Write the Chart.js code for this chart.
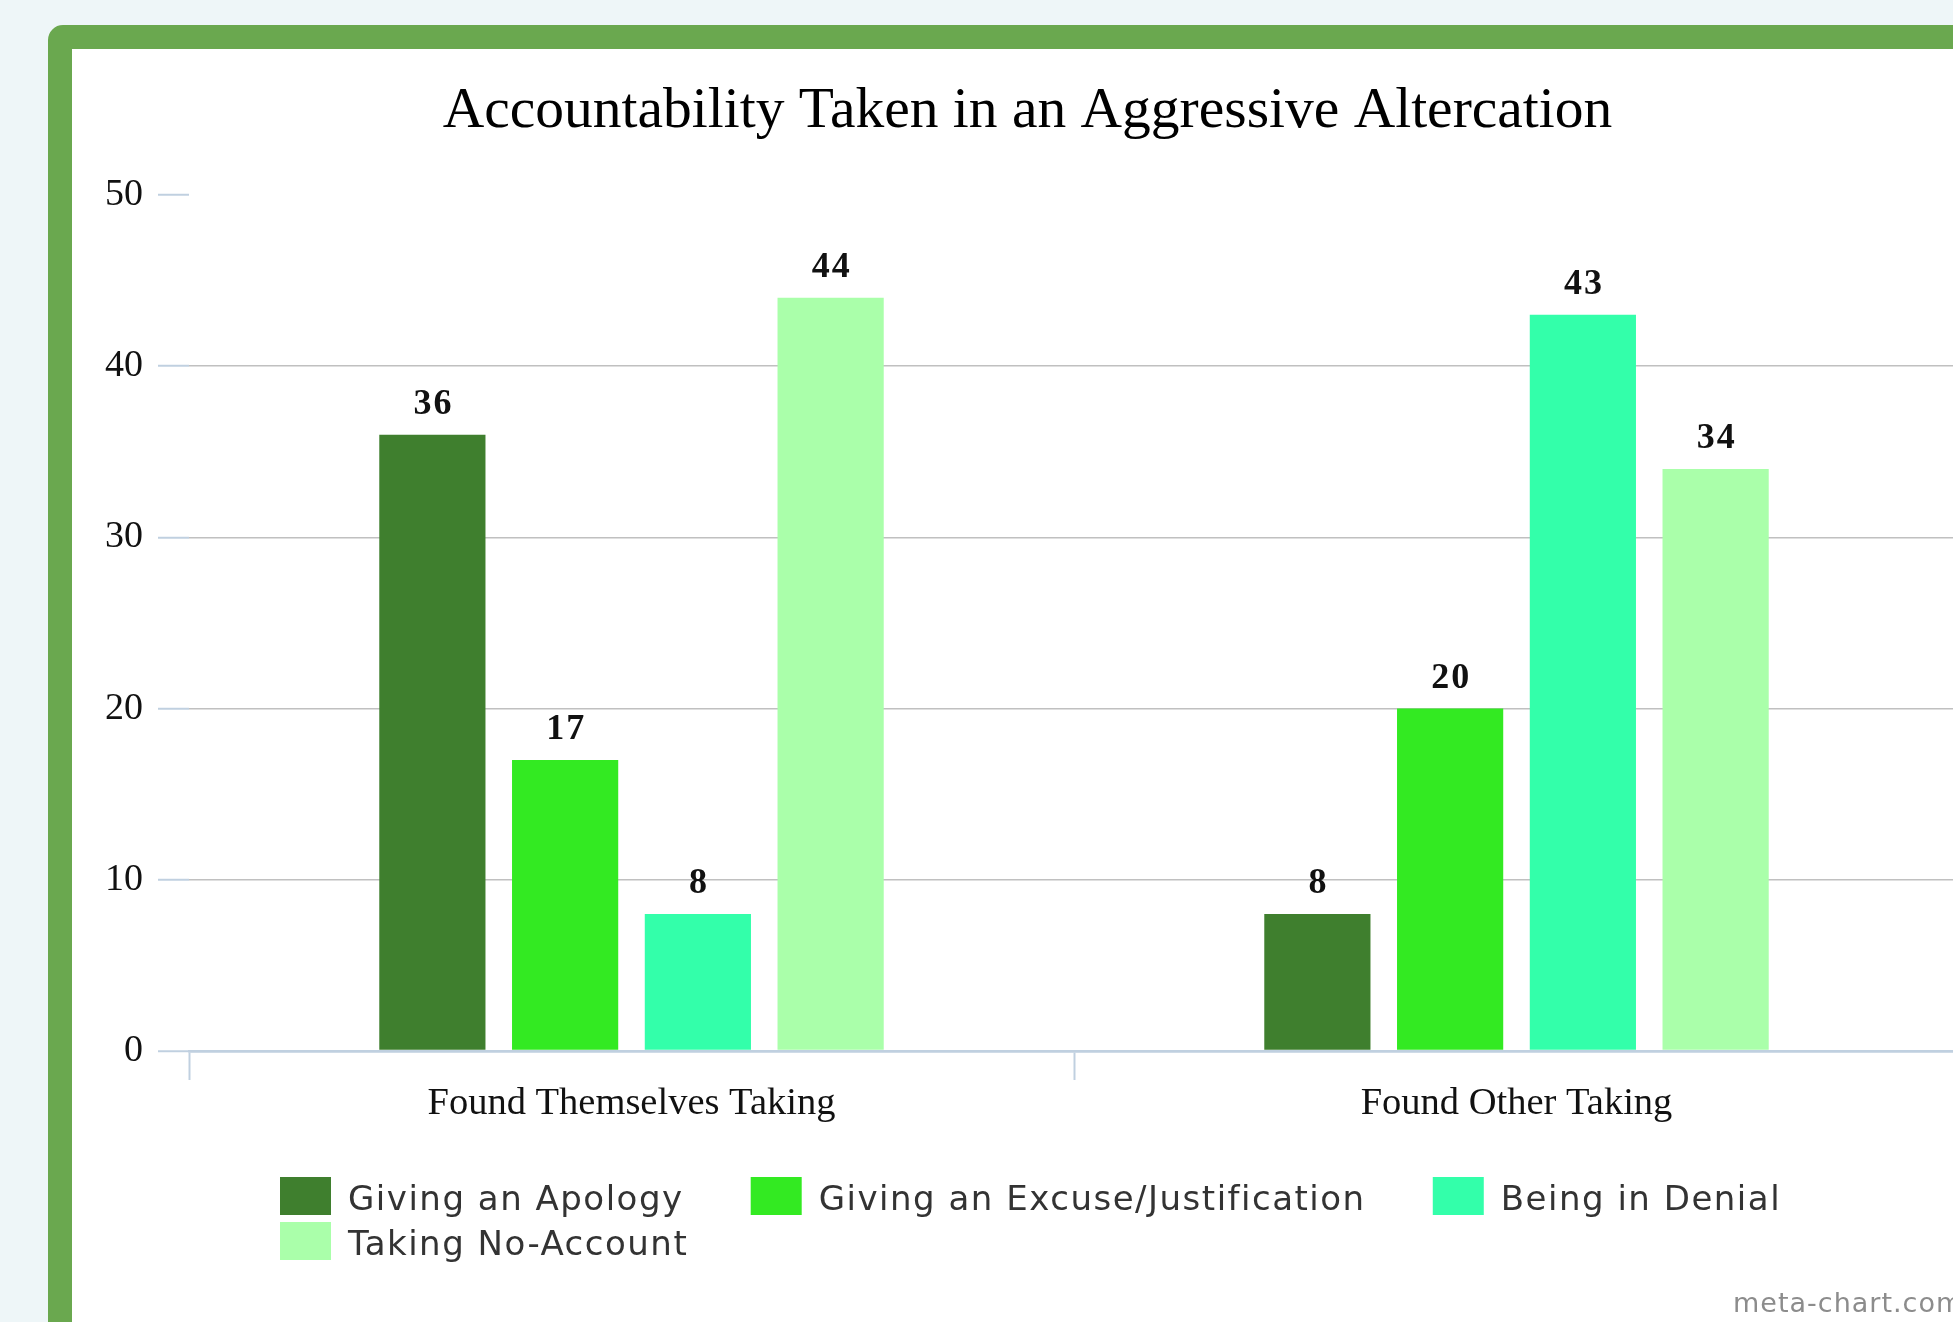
<!DOCTYPE html>
<html>
<head>
<meta charset="utf-8">
<title>Accountability Taken in an Aggressive Altercation</title>
<script src="https://cdn.jsdelivr.net/npm/chart.js@4/dist/chart.umd.min.js"></script>
<style>
  html, body { margin: 0; padding: 0; width: 1953px; height: 1322px; overflow: hidden; background: #eef6f8; }
  #frame {
    position: absolute; left: 48px; top: 25px;
    width: 1934px; height: 1400px;
    border: 24px solid #6aa84f; border-radius: 15px;
    background: #ffffff;
  }
  #wrap { position: absolute; left: 0; top: 0; width: 1934px; height: 1273px; }
  #credit {
    position: absolute; left: 1733px; top: 1289px;
    font-family: "DejaVu Sans", sans-serif; font-size: 27px; line-height: 1;
    letter-spacing: 1px; color: #8c8c8c; white-space: nowrap;
  }
</style>
</head>
<body>
<div id="frame"><div id="wrap"><canvas id="chart"></canvas></div></div>
<div id="credit">meta-chart.com</div>
<script>
// Chart content
const chartTitle = 'Accountability Taken in an Aggressive Altercation';
const categories = ['Found Themselves Taking', 'Found Other Taking'];
const seriesNames = ['Giving an Apology', 'Giving an Excuse/Justification', 'Being in Denial', 'Taking No-Account'];
const apology = [36, 8];
const excuse = [17, 20];
const denial = [8, 43];
const noAccount = [44, 34];
const yMin = 0, yMax = 50, yStep = 10;

const seriesValues = [apology, excuse, denial, noAccount];
const seriesColors = ['#3f7f2e', '#33ea22', '#33ffaa', '#aaffaa'];

const SERIF = '"Liberation Serif", "Times New Roman", serif';
const SANS = '"DejaVu Sans", Verdana, sans-serif';
const AXIS_BLUE = '#c0d0e0';

// Title block starts a little in from the left so the heading sits centred on the frame
const TITLE_LEFT = 24;

// Legend: slightly spaced lettering, text set a little below the swatch centre,
// rows starting from a fixed left edge
const LEGEND_LEFT = 208;
const LEGEND_SPACING = '1.5px';
const LEGEND_TEXT_DROP = 5;
const blockPlacement = {
  id: 'blockPlacement',
  afterInit(chart) {
    const lg = chart.legend;
    ['fit', 'draw'].forEach(fn => {
      const orig = lg[fn];
      lg[fn] = function (...args) {
        const c = this.ctx;
        const prev = c.letterSpacing;
        const fill = c.fillText;
        c.letterSpacing = LEGEND_SPACING;
        if (fn === 'draw') {
          c.fillText = function (t, x, y, ...rest) { return fill.call(this, t, x, y + LEGEND_TEXT_DROP, ...rest); };
        }
        try { return orig.apply(this, args); } finally {
          c.letterSpacing = prev;
          c.fillText = fill;
        }
      };
    });
  },
  afterLayout(chart) {
    const lg = chart.legend;
    lg.left = LEGEND_LEFT - lg.options.labels.padding;
    if (chart.titleBlock) chart.titleBlock.left = TITLE_LEFT;
  }
};

// Value labels above each bar
const barValues = {
  id: 'barValues',
  afterDatasetsDraw(chart) {
    const ctx = chart.ctx;
    ctx.save();
    ctx.font = 'bold 36px ' + SERIF;
    ctx.fillStyle = '#111111';
    ctx.textAlign = 'center';
    ctx.textBaseline = 'alphabetic';
    ctx.letterSpacing = '2px';
    chart.data.datasets.forEach((ds, di) => {
      const meta = chart.getDatasetMeta(di);
      meta.data.forEach((bar, i) => {
        ctx.fillText(String(ds.data[i]), bar.x + 1, bar.y - 21);
      });
    });
    ctx.restore();
  }
};

new Chart(document.getElementById('chart'), {
  type: 'bar',
  data: {
    labels: categories,
    datasets: seriesNames.map((name, i) => ({
      label: name,
      data: seriesValues[i],
      backgroundColor: seriesColors[i],
      borderWidth: 0,
      categoryPercentage: 0.6,
      barPercentage: 0.8
    }))
  },
  options: {
    responsive: true,
    maintainAspectRatio: false,
    animation: false,
    devicePixelRatio: 1,
    layout: { padding: { left: 0, right: 47, top: 0, bottom: 52 } },
    plugins: {
      title: {
        display: true,
        text: chartTitle,
        color: '#000000',
        font: { family: SERIF, size: 57.5, weight: 'normal' },
        padding: { top: 28, bottom: 49 }
      },
      legend: {
        display: true,
        position: 'bottom',
        align: 'start',
        labels: {
          color: '#333333',
          font: { family: SANS, size: 34 },
          boxWidth: 51,
          boxHeight: 38,
          padding: 7,
          generateLabels(chart) {
            return Chart.defaults.plugins.legend.labels.generateLabels(chart)
              .map(item => Object.assign(item, { text: item.text + '\u2003  ', lineWidth: 0 }));
          }
        }
      },
      tooltip: { enabled: false }
    },
    scales: {
      x: {
        grid: {
          offset: true,
          drawOnChartArea: false,
          drawTicks: true,
          tickLength: 29,
          tickWidth: 2,
          tickColor: AXIS_BLUE
        },
        border: { display: true, color: AXIS_BLUE, width: 2.5 },
        ticks: {
          color: '#111111',
          font: { family: SERIF, size: 38.5 },
          padding: 1,
          maxRotation: 0
        },
        afterFit(scale) { scale.height = 119; }
      },
      y: {
        min: yMin,
        max: yMax,
        grid: {
          drawTicks: true,
          tickLength: 31,
          tickWidth: 2,
          tickColor: AXIS_BLUE,
          lineWidth: ctx => ctx.tick && ctx.tick.value === yMin ? 2.5 : 1.5,
          color: ctx => {
            const v = ctx.tick ? ctx.tick.value : null;
            if (v === yMax) return 'rgba(0,0,0,0)';
            if (v === yMin) return AXIS_BLUE;
            return '#c0c0c0';
          }
        },
        border: { display: false },
        ticks: {
          stepSize: yStep,
          color: '#111111',
          font: { family: SERIF, size: 38 },
          padding: 15
        },
        afterFit(scale) { scale.width = 117; }
      }
    }
  },
  plugins: [blockPlacement, barValues]
});
</script>
</body>
</html>
